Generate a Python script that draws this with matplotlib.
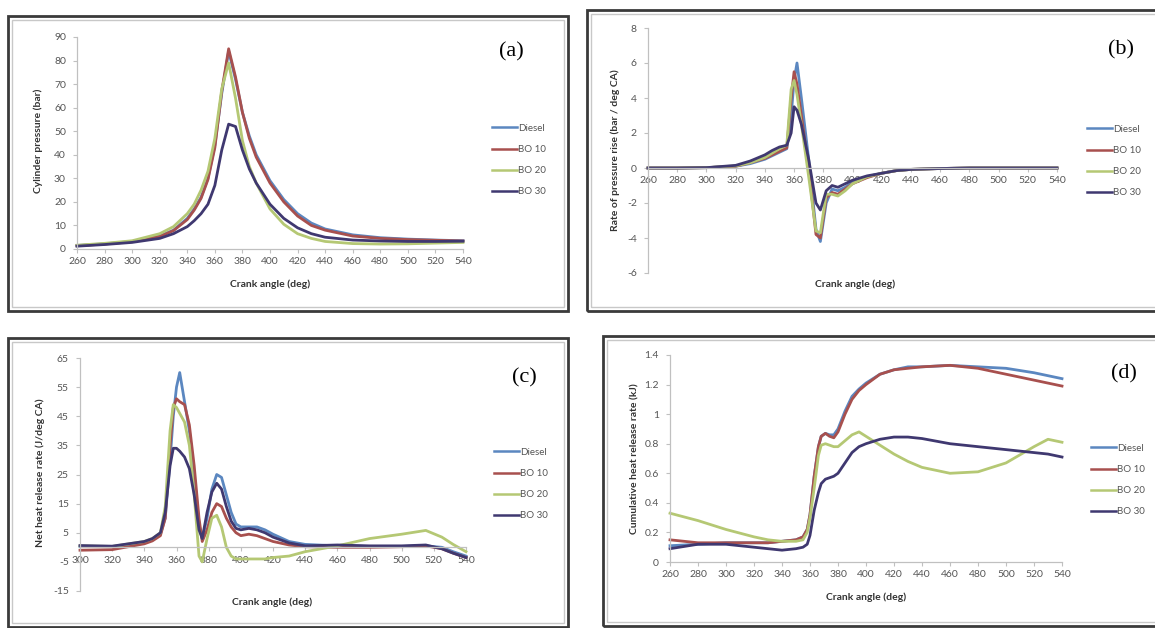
import matplotlib
matplotlib.use("Agg")
import matplotlib.pyplot as plt
from matplotlib.patches import Rectangle
from matplotlib.lines import Line2D

plt.rcParams['font.family'] = ['Lato', 'DejaVu Sans']
plt.rcParams['axes.unicode_minus'] = False

W, H = 1155, 628
names = ["Diesel", "BO 10", "BO 20", "BO 30"]
colors = ["#5b87c0", "#a8504e", "#b5c874", "#3f3870"]

# (a) cylinder pressure, bar
ang_a = [260, 280, 300, 320, 330, 340, 345, 350, 355, 360, 365, 370, 375, 380,
         385, 390, 400, 410, 420, 430, 440, 460, 480, 500, 520, 540]
p_diesel = [1.5, 2.2, 3.2, 5.5, 8, 13, 17, 22, 30, 44, 66, 84, 72, 58,
            48, 40, 29, 21, 15, 11, 8.5, 6, 4.8, 4.2, 3.8, 3.5]
p_bo10 = [1.4, 2.1, 3.1, 5.3, 7.8, 12.5, 16.5, 21.5, 29.5, 43, 67, 85, 73, 58,
          47, 39, 28, 20, 14, 10, 8, 5.5, 4.5, 4, 3.7, 3.4]
p_bo20 = [1.6, 2.4, 3.5, 6.5, 9.5, 15, 19, 25, 33, 47, 68, 79, 64, 46,
          35, 28, 17, 10.5, 6.5, 4.5, 3.2, 2.3, 2.1, 2.2, 2.5, 2.8]
p_bo30 = [1.2, 1.9, 2.8, 4.5, 6.5, 9.5, 12, 15, 19, 27, 42, 53, 52, 42,
          34, 28, 19, 13, 9, 6.5, 5, 3.8, 3.4, 3.2, 3.2, 3.3]

# (b) rate of pressure rise, bar/deg CA
ang_b = [260, 280, 300, 320, 330, 340, 345, 350, 355, 358, 360, 362, 365, 370, 375,
         378, 382, 386, 390, 395, 400, 410, 420, 430, 440, 460, 480, 500, 520, 540]
r_diesel = [0, 0, 0.02, 0.1, 0.25, 0.5, 0.7, 0.9, 1.1, 3.0, 5.0, 6.0, 4.0, 0.5, -3.5,
            -4.2, -2.0, -1.2, -1.3, -1.1, -0.8, -0.5, -0.3, -0.15, -0.08, -0.03, 0, 0, 0, 0]
r_bo10 = [0, 0, 0.02, 0.1, 0.3, 0.55, 0.75, 0.95, 1.15, 4.0, 5.5, 4.8, 3.0, 0, -3.8,
          -4.0, -1.7, -1.4, -1.5, -1.2, -0.9, -0.55, -0.3, -0.15, -0.08, -0.03, 0, 0, 0, 0]
r_bo20 = [0, 0, 0.02, 0.12, 0.3, 0.6, 0.85, 1.1, 1.3, 4.5, 5.0, 4.2, 2.5, -0.5, -3.6,
          -3.7, -1.5, -1.5, -1.6, -1.3, -0.9, -0.5, -0.3, -0.15, -0.08, -0.03, 0, 0, 0, 0]
r_bo30 = [0, 0, 0.02, 0.15, 0.4, 0.75, 1.0, 1.2, 1.3, 2.0, 3.5, 3.3, 2.5, 0.5, -2.0,
          -2.4, -1.3, -1.0, -1.1, -0.9, -0.7, -0.45, -0.3, -0.15, -0.08, -0.03, 0, 0, 0, 0]

# (c) net heat release rate, J/deg CA
ang_c = [300, 320, 340, 345, 350, 353, 356, 358, 360, 362, 365, 368, 371, 374, 376, 379,
         382, 385, 388, 391, 394, 397, 400, 405, 410, 415, 420, 430, 440, 460, 480, 500,
         515, 525, 532, 540]
q_diesel = [0.3, 0.2, 1.5, 2.5, 4.5, 10, 30, 45, 55, 60, 50, 40, 25, 8, 3, 10,
            20, 25, 24, 18, 12, 8, 7, 7, 7, 6, 4.5, 2, 1, 0.5, 0.3, 0.3,
            0.5, 0, -1.5, -3]
q_bo10 = [-1, -0.8, 1.2, 2.2, 4, 10, 35, 48, 51, 50, 49, 42, 28, 10, 2, 6,
          12, 15, 14, 10, 7, 5, 4, 4.5, 4, 3, 2, 0.8, 0.2, 0, 0, 0.2,
          0.5, -0.5, -2, -3.5]
q_bo20 = [0.5, 0.3, 2, 3, 5, 14, 40, 49, 48, 46, 43, 35, 18, -3, -5, 3,
          10, 11, 7, 0, -3, -4, -4, -4, -4, -4, -3.5, -3, -1.5, 0.5, 3, 4.5,
          5.8, 3.5, 1, -1.5]
q_bo30 = [0.6, 0.4, 2, 3, 5, 12, 28, 34, 34, 33, 31, 27, 18, 6, 3, 12,
          19, 22, 20, 14, 9, 6.5, 6, 6.5, 6, 5, 3.5, 1.5, 0.5, 0.8, 0.5, 0.5,
          0.8, -0.5, -2, -3.5]

# (d) cumulative heat release, kJ
ang_d = [260, 280, 300, 320, 330, 340, 350, 355, 358, 360, 363, 366, 368, 371, 374, 377,
         380, 385, 390, 395, 400, 410, 420, 430, 440, 460, 480, 500, 520, 530, 540]
c_diesel = [0.11, 0.12, 0.13, 0.13, 0.13, 0.14, 0.15, 0.17, 0.22, 0.32, 0.58, 0.78, 0.85,
            0.87, 0.86, 0.86, 0.9, 1.02, 1.12, 1.17, 1.21, 1.27, 1.30, 1.32, 1.32, 1.33,
            1.32, 1.31, 1.28, 1.26, 1.24]
c_bo10 = [0.15, 0.13, 0.13, 0.13, 0.13, 0.14, 0.15, 0.17, 0.22, 0.32, 0.58, 0.78, 0.85,
          0.87, 0.85, 0.84, 0.88, 1.0, 1.1, 1.16, 1.2, 1.27, 1.3, 1.31, 1.32, 1.33,
          1.31, 1.27, 1.23, 1.21, 1.19]
c_bo20 = [0.33, 0.28, 0.22, 0.17, 0.15, 0.14, 0.14, 0.15, 0.2, 0.3, 0.5, 0.72, 0.79,
          0.8, 0.79, 0.78, 0.78, 0.82, 0.86, 0.88, 0.85, 0.79, 0.73, 0.68, 0.64, 0.6,
          0.61, 0.67, 0.78, 0.83, 0.81]
c_bo30 = [0.09, 0.12, 0.12, 0.1, 0.09, 0.08, 0.09, 0.1, 0.12, 0.18, 0.35, 0.47, 0.53,
          0.56, 0.57, 0.58, 0.6, 0.67, 0.74, 0.78, 0.8, 0.83, 0.845, 0.845, 0.835, 0.8,
          0.78, 0.76, 0.74, 0.73, 0.71]

fig = plt.figure(figsize=(W / 100, H / 100), dpi=100)
fig.patch.set_facecolor("white")


def fx(px):
    return px / W


def fy(py):
    return 1 - py / H


def frame(x0, y0, x1, y1):
    # dark outer border plus a thin grey inner one
    fig.add_artist(Rectangle((fx(x0), fy(y1)), fx(x1 - x0), (y1 - y0) / H,
                             transform=fig.transFigure, fill=False,
                             lw=2.0, ec="#3a3a3a"))
    fig.add_artist(Rectangle((fx(x0 + 4), fy(y1 - 4)), fx(x1 - x0 - 8), (y1 - y0 - 8) / H,
                             transform=fig.transFigure, fill=False,
                             lw=1.0, ec="#c8c8c8"))


def panel(left, right, top, bottom, xlim, ylim, xticks, yticks, ylabels=None,
          zero_axis=False):
    ax = fig.add_axes([fx(left), fy(bottom), fx(right - left), (bottom - top) / H])
    ax.set_xlim(*xlim)
    ax.set_ylim(*ylim)
    ax.set_xticks(xticks)
    ax.set_yticks(yticks)
    if ylabels is not None:
        ax.set_yticklabels(ylabels)
    for s in ("top", "right"):
        ax.spines[s].set_visible(False)
    for s in ("left", "bottom"):
        ax.spines[s].set_color("#c0c0c0")
        ax.spines[s].set_linewidth(0.9)
    if zero_axis:
        ax.spines["bottom"].set_position(("data", 0))
    ax.tick_params(axis="both", length=3, width=0.8, color="#c0c0c0",
                   labelsize=7.5, labelcolor="#555555")
    ax.tick_params(axis="x", pad=3)
    ax.tick_params(axis="y", pad=5)
    ax.patch.set_alpha(0)
    return ax


def curves(ax, x, series):
    for ys, c, n in zip(series, colors, names):
        ax.plot(x, ys, color=c, lw=2.0, label=n, clip_on=False,
                solid_joinstyle="round")


def legend(cx, cy):
    handles = [Line2D([], [], color=c, lw=1.8) for c in colors]
    fig.legend(handles, names, loc="center left",
               bbox_to_anchor=(fx(cx), fy(cy)), bbox_transform=fig.transFigure,
               frameon=False, fontsize=7, labelcolor="#555555",
               handlelength=2.6, handletextpad=0.1, labelspacing=1.25,
               borderpad=0, borderaxespad=0)


def labels(ylab, yx, yy, xx, xy):
    fig.text(fx(yx), fy(yy), ylab, rotation=90, ha="center", va="center",
             fontsize=7.5, fontweight="bold", color="#333333")
    fig.text(fx(xx), fy(xy), "Crank angle (deg)", ha="center", va="center",
             fontsize=7.5, fontweight="bold", color="#333333")


serif = ["Liberation Serif", "DejaVu Serif"]

# frames
frame(8, 16, 568, 311)
frame(587, 10, 1170, 311)
frame(8, 338, 568, 627)
frame(603, 336, 1170, 626)

# (a)
ax = panel(77, 463, 37, 249, (260, 540), (0, 90), range(260, 541, 20), range(0, 91, 10))
curves(ax, ang_a, [p_diesel, p_bo10, p_bo20, p_bo30])
legend(492, 160)
labels("Cylinder pressure (bar)", 38, 141, 270, 284)
fig.text(fx(511), fy(52), "(a)", family=serif, fontsize=16, ha="center", va="center")

# (b)
ax = panel(648, 1057, 28, 273, (260, 540), (-6, 8), range(260, 541, 20), range(-6, 9, 2),
           zero_axis=True)
curves(ax, ang_b, [r_diesel, r_bo10, r_bo20, r_bo30])
legend(1087, 161)
labels("Rate of pressure rise (bar / deg CA)", 615, 150, 855, 284)
fig.text(fx(1121), fy(50), "(b)", family=serif, fontsize=16, ha="center", va="center")

# (c)
ax = panel(80, 466, 358, 591, (300, 540), (-15, 65), range(300, 541, 20), range(-15, 66, 10),
           zero_axis=True)
curves(ax, ang_c, [q_diesel, q_bo10, q_bo20, q_bo30])
legend(494, 484)
labels("Net heat release rate (J/deg CA)", 40, 473, 272, 602)
fig.text(fx(524), fy(378), "(c)", family=serif, fontsize=16, ha="center", va="center")

# (d)
ax = panel(670, 1062, 355, 562, (260, 540), (0, 1.4), range(260, 541, 20),
           [0, 0.2, 0.4, 0.6, 0.8, 1.0, 1.2, 1.4],
           ylabels=["0", "0.2", "0.4", "0.6", "0.8", "1", "1.2", "1.4"])
curves(ax, ang_d, [c_diesel, c_bo10, c_bo20, c_bo30])
legend(1091, 480)
labels("Cumulative heat release rate (kJ)", 635, 459, 866, 597)
fig.text(fx(1124), fy(374), "(d)", family=serif, fontsize=16, ha="center", va="center")

fig.savefig("out.png", dpi=100)
